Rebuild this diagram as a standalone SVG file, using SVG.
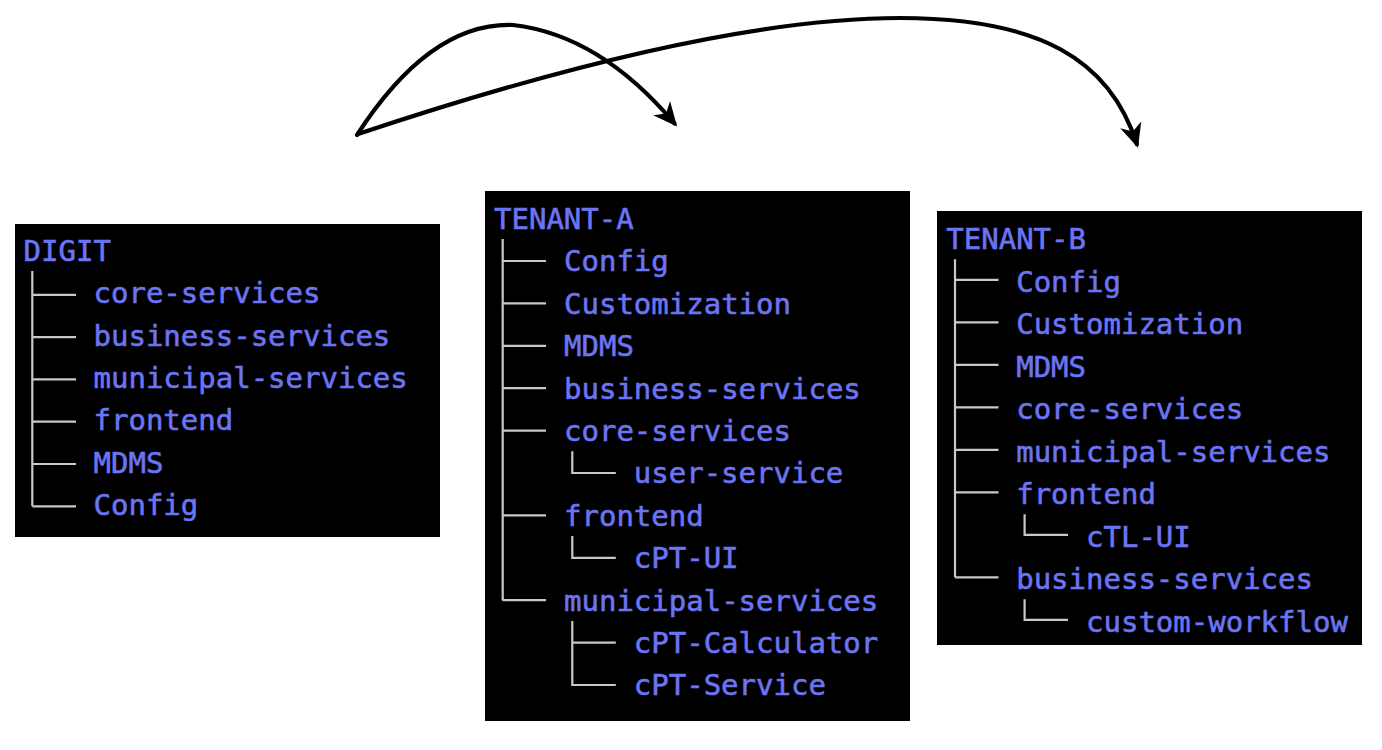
<svg xmlns="http://www.w3.org/2000/svg" width="1382" height="750" viewBox="0 0 1382 750">
<style>
.panel{fill:#000}
.lbl{font-family:"DejaVu Sans Mono","Liberation Mono",monospace;font-size:29px;fill:#6b74f2;stroke:#6b74f2;stroke-width:0.6}
.tree{fill:none;stroke:#c8c8c8;stroke-width:2.2}
.conn{fill:none;stroke:#000;stroke-width:4.2;stroke-linecap:round}
</style>
<defs>
<marker id="ah" markerUnits="userSpaceOnUse" markerWidth="30" markerHeight="28" viewBox="-24 -14 30 28" refX="0" refY="0" orient="auto">
<path d="M4,0 L-20,-11 L-13,0 L-20,11 Z" fill="#000"/>
</marker>
</defs>
<rect width="1382" height="750" fill="#fff"/>

<g id="digit">
<rect class="panel" x="15" y="224" width="425" height="313"/>
<path class="tree" d="M32.3,271 V506.3 M32.3,294.8 H76 M32.3,337.1 H76 M32.3,379.4 H76 M32.3,421.7 H76 M32.3,464 H76 M32.3,506.3 H76"/>
<text class="lbl" x="23.6" y="261">DIGIT</text>
<text class="lbl" x="93.5" y="303.3">core-services</text>
<text class="lbl" x="93.5" y="345.6">business-services</text>
<text class="lbl" x="93.5" y="387.9">municipal-services</text>
<text class="lbl" x="93.5" y="430.2">frontend</text>
<text class="lbl" x="93.5" y="472.5">MDMS</text>
<text class="lbl" x="93.5" y="514.8">Config</text>
</g>

<g id="tenant-a">
<rect class="panel" x="485" y="191" width="425" height="530"/>
<path class="tree" d="M502.7,239 V600.4 M502.7,261 H546 M502.7,303.4 H546 M502.7,345.8 H546 M502.7,388.2 H546 M502.7,430.6 H546 M502.7,515.4 H546 M502.7,600.2 H546 M572.3,451.3 V473 H615.8 M572.3,536.1 V557.8 H615.8 M572.3,620.9 V685 H615.8 M572.3,642.6 H615.8"/>
<text class="lbl" x="494" y="229">TENANT-A</text>
<text class="lbl" x="564" y="271.4">Config</text>
<text class="lbl" x="564" y="313.8">Customization</text>
<text class="lbl" x="564" y="356.2">MDMS</text>
<text class="lbl" x="564" y="398.6">business-services</text>
<text class="lbl" x="564" y="441">core-services</text>
<text class="lbl" x="633.8" y="483.4">user-service</text>
<text class="lbl" x="564" y="525.8">frontend</text>
<text class="lbl" x="633.8" y="568.2">cPT-UI</text>
<text class="lbl" x="564" y="610.6">municipal-services</text>
<text class="lbl" x="633.8" y="653">cPT-Calculator</text>
<text class="lbl" x="633.8" y="695.4">cPT-Service</text>
</g>

<g id="tenant-b">
<rect class="panel" x="937" y="211" width="425" height="434"/>
<path class="tree" d="M955,259.3 V577.3 M955,279.8 H998.5 M955,322.3 H998.5 M955,364.8 H998.5 M955,407.3 H998.5 M955,449.8 H998.5 M955,492.3 H998.5 M955,577.3 H998.5 M1024.6,514.3 V534.8 H1068 M1024.6,599.3 V619.8 H1068"/>
<text class="lbl" x="946.3" y="249.3">TENANT-B</text>
<text class="lbl" x="1016.2" y="291.8">Config</text>
<text class="lbl" x="1016.2" y="334.3">Customization</text>
<text class="lbl" x="1016.2" y="376.8">MDMS</text>
<text class="lbl" x="1016.2" y="419.3">core-services</text>
<text class="lbl" x="1016.2" y="461.8">municipal-services</text>
<text class="lbl" x="1016.2" y="504.3">frontend</text>
<text class="lbl" x="1086" y="546.8">cTL-UI</text>
<text class="lbl" x="1016.2" y="589.3">business-services</text>
<text class="lbl" x="1086" y="631.8">custom-workflow</text>
</g>

<g id="connectors">
<path class="conn" marker-end="url(#ah)" d="M357,135 Q430,22 513,25 Q600,35 674.5,123.5"/>
<path class="conn" marker-end="url(#ah)" d="M358,134 C550,70 750,18 900,18 C1040,18 1110,60 1136.8,144"/>
</g>
</svg>
